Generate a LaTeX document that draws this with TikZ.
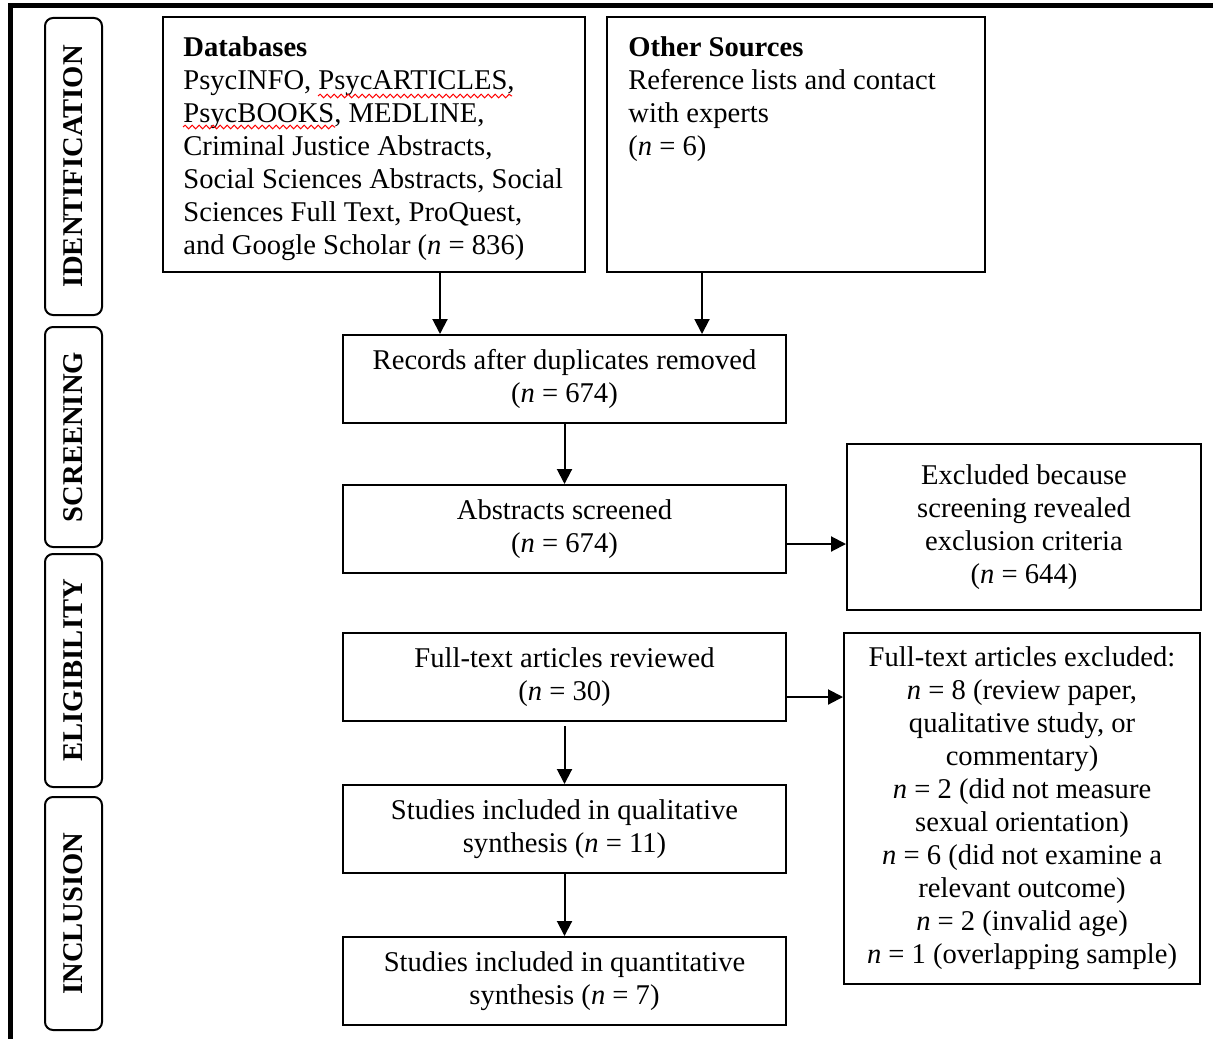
\documentclass[tikz,border=0pt]{standalone}
\usepackage{fontspec}
\setmainfont{Liberation Serif}
\usetikzlibrary{arrows.meta,decorations.pathmorphing,calc}
\newcommand{\fsz}{\fontsize{14.3pt}{16.5pt}\selectfont}
\begin{document}
\begin{tikzpicture}[x=0.5pt,y=-0.5pt,
  box/.style={draw,line width=1pt,inner sep=0pt,align=center,font=\fsz},
  lowtext/.style={execute at begin node={\rule{0pt}{#1}}},
  phase/.style={draw,line width=1pt,rounded corners=4pt,rotate=90,inner sep=0pt,font=\fsz\bfseries,minimum height=28.5pt},
  txt/.style={inner sep=0pt,align=left,font=\fsz,anchor=north west},
  arr/.style={line width=1pt,-{Triangle[length=7.5pt,width=7.5pt]}},
  squig/.style={red,line width=0.5pt,decorate,decoration={snake,amplitude=0.9pt,segment length=3.5pt}}]
\useasboundingbox (0,0) rectangle (1213,1038);
\draw[line width=2.5pt] (10.5,1100) -- (10.5,6) -- (1300,6);
% phase labels
\node[phase,minimum width=148.5pt] (pid) at (73.5,166.5) {IDENTIFICATION};
\node[phase,minimum width=110pt] (psc) at (73.5,437) {SCREENING};
\node[phase,minimum width=116.5pt] (pel) at (73.5,670.5) {ELIGIBILITY};
\node[phase,minimum width=116.5pt] (pin) at (73.5,913.5) {INCLUSION};
% source boxes
\node[box,minimum width=211pt,minimum height=127.5pt] (db) at (374,144.5) {};
\node[box,minimum width=189pt,minimum height=127.5pt] (oth) at (796,144.5) {};
\node[txt] (dbt) at (183,36.5) {\textbf{Databases}\\PsycINFO, PsycARTICLES,\\PsycBOOKS, MEDLINE,\\Criminal Justice Abstracts,\\Social Sciences Abstracts, Social\\Sciences Full Text, ProQuest,\\and Google Scholar (\textit{n} = 836)};
\node[txt] (otht) at (628,36.5) {\textbf{Other Sources}\\Reference lists and contact\\with experts\\(\textit{n} = 6)};
\draw[squig] (318,96) -- (512,96);
\draw[squig] (183,127) -- (335,127);
% flow boxes
\node[box,lowtext=12pt,minimum width=221.5pt,minimum height=44pt] (rec) at (564.5,379) {Records after duplicates removed\\(\textit{n} = 674)};
\node[box,lowtext=12pt,minimum width=221.5pt,minimum height=44pt] (abs) at (564.5,529) {Abstracts screened\\(\textit{n} = 674)};
\node[box,lowtext=12.5pt,minimum width=221.5pt,minimum height=44pt] (ftr) at (564.5,677) {Full-text articles reviewed\\(\textit{n} = 30)};
\node[box,lowtext=12.5pt,minimum width=221.5pt,minimum height=44pt] (qual) at (564.5,829) {Studies included in qualitative\\synthesis (\textit{n} = 11)};
\node[box,lowtext=11.5pt,minimum width=221.5pt,minimum height=44pt] (quant) at (564.5,981) {Studies included in quantitative\\synthesis (\textit{n} = 7)};
\node[box,minimum width=177pt,minimum height=83pt] (ex1) at (1024,527) {Excluded because\\screening revealed\\exclusion criteria\\(\textit{n} = 644)};
\node[box,lowtext=12.8pt,minimum width=178pt,minimum height=175.5pt] (ex2) at (1022,808.5) {Full-text articles excluded:\\\textit{n} = 8 (review paper,\\qualitative study, or\\commentary)\\\textit{n} = 2 (did not measure\\sexual orientation)\\\textit{n} = 6 (did not examine a\\relevant outcome)\\\textit{n} = 2 (invalid age)\\\textit{n} = 1 (overlapping sample)};
% connectors
\draw[arr] ([xshift=33pt]db.south) -- ([xshift=33pt]db.south |- rec.north);
\draw[arr] ([xshift=-47pt]oth.south) -- ([xshift=-47pt]oth.south |- rec.north);
\draw[arr] (rec.south) -- (abs.north);
\draw[arr] ([yshift=-7.5pt]abs.east) -- ([yshift=-7.5pt]abs.east -| ex1.west);
\draw[arr] ([yshift=-10pt]ftr.east) -- ([yshift=-10pt]ftr.east -| ex2.west);
\draw[arr] ([yshift=-2pt]ftr.south) -- (qual.north);
\draw[arr] (qual.south) -- (quant.north);
\end{tikzpicture}
\end{document}
